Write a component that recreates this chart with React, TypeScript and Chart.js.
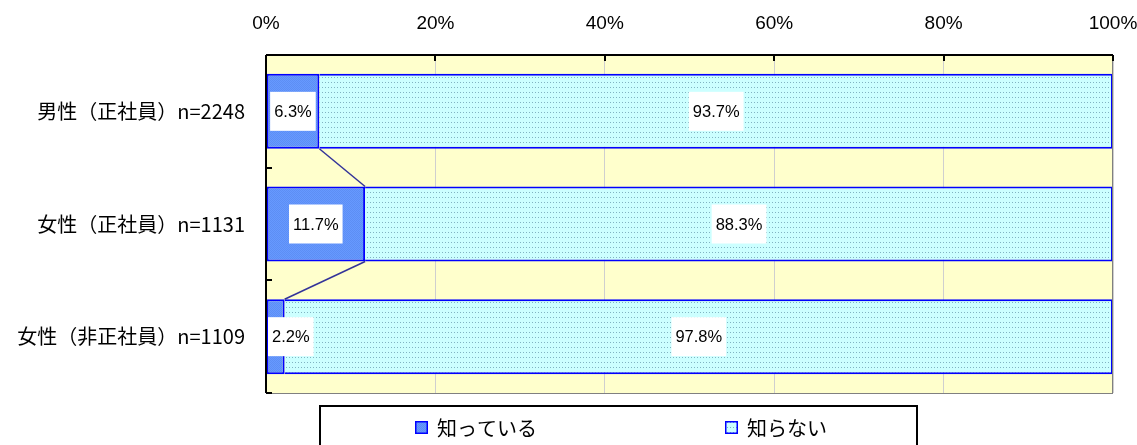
import { useEffect, useRef } from "react";
import { Chart, registerables } from "chart.js";

Chart.register(...registerables);

// Survey answers per group (percent of respondents)
const categories = ["男性（正社員）n=2248", "女性（正社員）n=1131", "女性（非正社員）n=1109"];
const seriesNames = ["知っている", "知らない"];
const knowValues = [6.3, 11.7, 2.2];
const unknownValues = [93.7, 88.3, 97.8];
const tickStep = 20;
const tickMax = 100;

const NUM_FONT = '"Liberation Sans Narrow", "Liberation Sans", "Noto Sans CJK JP", sans-serif';
const JP_FONT = '"Noto Sans CJK JP", sans-serif';

const BAR_BORDER = "#0000ff";
const PLOT_BG = "#ffffcc";

function makeBluePattern(ctx: CanvasRenderingContext2D) {
  const c = document.createElement("canvas");
  c.width = 2;
  c.height = 2;
  const p = c.getContext("2d")!;
  p.fillStyle = "#6699ff";
  p.fillRect(0, 0, 2, 2);
  p.fillStyle = "#5d8ef4";
  p.fillRect(0, 0, 1, 1);
  p.fillRect(1, 1, 1, 1);
  return ctx.createPattern(c, "repeat")!;
}

function makeDotPattern(ctx: CanvasRenderingContext2D) {
  const c = document.createElement("canvas");
  c.width = 3;
  c.height = 5;
  const p = c.getContext("2d")!;
  p.fillStyle = "#ccffff";
  p.fillRect(0, 0, 3, 5);
  p.fillStyle = "#80b3c2";
  p.fillRect(1, 2, 1, 1);
  return ctx.createPattern(c, "repeat")!;
}

export default function App() {
  const canvasRef = useRef<HTMLCanvasElement | null>(null);

  useEffect(() => {
    const canvas = canvasRef.current;
    if (!canvas) return;
    const ctx0 = canvas.getContext("2d")!;
    const bluePattern = makeBluePattern(ctx0);
    const dotPattern = makeDotPattern(ctx0);

    const plotBackground = {
      id: "plotBackground",
      beforeDraw(chart: any) {
        const { ctx, chartArea: a } = chart;
        ctx.save();
        ctx.fillStyle = PLOT_BG;
        ctx.fillRect(a.left, a.top, a.right - a.left, a.bottom - a.top);
        ctx.restore();
      },
    };

    const overlay = {
      id: "overlay",
      afterDatasetsDraw(chart: any) {
        const { ctx, chartArea: a } = chart;
        ctx.save();

        // series connector lines between the first segments
        const meta0 = chart.getDatasetMeta(0);
        ctx.strokeStyle = "#333399";
        ctx.lineWidth = 1.5;
        for (let i = 0; i < meta0.data.length - 1; i++) {
          const b1 = meta0.data[i].getProps(["x", "y", "height"], true);
          const b2 = meta0.data[i + 1].getProps(["x", "y", "height"], true);
          ctx.beginPath();
          ctx.moveTo(b1.x, b1.y + b1.height / 2);
          ctx.lineTo(b2.x, b2.y - b2.height / 2);
          ctx.stroke();
        }

        // plot frame: gray border, black axis lines
        ctx.strokeStyle = "#808080";
        ctx.lineWidth = 1;
        ctx.strokeRect(a.left + 0.5, a.top + 0.5, a.right - a.left - 1, a.bottom - a.top);
        ctx.strokeStyle = "#000";
        ctx.lineWidth = 2;
        ctx.beginPath();
        ctx.moveTo(a.left, a.top);
        ctx.lineTo(a.right, a.top);
        ctx.moveTo(a.left, a.top);
        ctx.lineTo(a.left, a.bottom);
        ctx.stroke();

        // inside tick marks
        const xs = chart.scales.x;
        ctx.beginPath();
        for (let v = 0; v <= tickMax; v += tickStep) {
          const px = Math.round(xs.getPixelForValue(v));
          ctx.moveTo(px, a.top);
          ctx.lineTo(px, a.top + 6);
        }
        const ys = chart.scales.y;
        const n = categories.length;
        for (let i = 0; i <= n; i++) {
          const py = Math.round(ys.getPixelForValue(i - 0.5));
          ctx.moveTo(a.left, py);
          ctx.lineTo(a.left + 6, py);
        }
        ctx.stroke();

        // value labels
        ctx.font = `16.5px ${NUM_FONT}`;
        ctx.textAlign = "center";
        ctx.textBaseline = "middle";
        chart.data.datasets.forEach((ds: any, di: number) => {
          const meta = chart.getDatasetMeta(di);
          meta.data.forEach((bar: any, i: number) => {
            const { x, y, base } = bar.getProps(["x", "y", "base"], true);
            const text = `${Number(ds.data[i]).toFixed(1)}%`;
            const w = ctx.measureText(text).width + 8;
            const h = 39;
            let left = (x + base) / 2 - w / 2;
            if (left < a.left + 2) left = a.left + 2;
            ctx.fillStyle = "#fff";
            ctx.fillRect(left, y - h / 2, w, h);
            ctx.fillStyle = "#000";
            ctx.fillText(text, left + w / 2, y + 1);
          });
        });
        ctx.restore();
      },
      afterDraw(chart: any) {
        const { ctx } = chart;
        ctx.save();
        // legend box
        ctx.strokeStyle = "#000";
        ctx.lineWidth = 2;
        ctx.strokeRect(320, 406, 597, 60);
        const items = [
          { x: 415, fill: bluePattern, text: seriesNames[0] },
          { x: 725, fill: dotPattern, text: seriesNames[1] },
        ];
        ctx.font = `20px ${JP_FONT}`;
        ctx.textAlign = "left";
        ctx.textBaseline = "middle";
        items.forEach((it) => {
          ctx.fillStyle = it.fill;
          ctx.fillRect(it.x, 421, 13, 13);
          ctx.strokeStyle = BAR_BORDER;
          ctx.lineWidth = 1.5;
          ctx.strokeRect(it.x + 0.75, 421.75, 11.5, 11.5);
          ctx.fillStyle = "#000";
          ctx.fillText(it.text, it.x + 22, 428);
        });
        ctx.restore();
      },
    };

    const chart = new Chart(canvas, {
      type: "bar",
      data: {
        labels: categories,
        datasets: [
          {
            label: seriesNames[0],
            data: knowValues,
            backgroundColor: bluePattern as any,
            borderColor: BAR_BORDER,
            borderWidth: 2,
            borderSkipped: false,
            categoryPercentage: 1,
            barPercentage: 0.665,
          },
          {
            label: seriesNames[1],
            data: unknownValues,
            backgroundColor: dotPattern as any,
            borderColor: BAR_BORDER,
            borderWidth: 2,
            borderSkipped: "start",
            categoryPercentage: 1,
            barPercentage: 0.665,
          },
        ],
      },
      options: {
        indexAxis: "y",
        responsive: false,
        animation: false,
        layout: { padding: { left: 0, top: 0, right: 24, bottom: 52 } },
        plugins: {
          legend: { display: false },
          tooltip: { enabled: false },
        },
        scales: {
          x: {
            type: "linear",
            position: "top",
            stacked: true,
            min: 0,
            max: tickMax,
            ticks: {
              stepSize: tickStep,
              color: "#000",
              padding: 20,
              font: { family: NUM_FONT, size: 19 },
              callback: (v: any) => `${v}%`,
            },
            grid: { color: "#cfcfcf", lineWidth: 1, drawTicks: false },
            border: { display: false },
            afterFit: (s: any) => {
              s.height = 55;
              s.paddingLeft = 0;
              s.paddingRight = 0;
            },
          },
          y: {
            type: "category",
            stacked: true,
            ticks: {
              color: "#000",
              padding: 21,
              font: { family: JP_FONT, size: 20 },
            },
            grid: { display: false, drawTicks: false },
            border: { display: false },
            afterFit: (s: any) => {
              s.width = 266;
              s.paddingTop = 0;
              s.paddingBottom = 0;
            },
          },
        },
      },
      plugins: [plotBackground, overlay],
    });

    return () => chart.destroy();
  }, []);

  return (
    <div style={{ position: "fixed", left: 0, top: 0, width: 1137, height: 445, background: "#fff" }}>
      <canvas ref={canvasRef} width={1137} height={445} style={{ display: "block" }} />
    </div>
  );
}
